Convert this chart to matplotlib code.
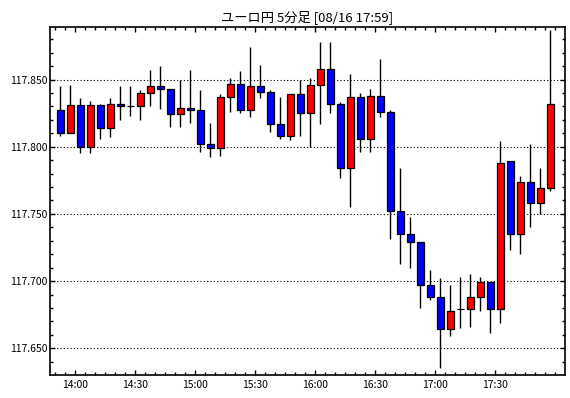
import matplotlib
matplotlib.use("Agg")
import matplotlib.pyplot as plt
from matplotlib.ticker import FixedLocator, MultipleLocator, FormatStrFormatter

plt.rcParams['font.family'] = ['Noto Sans CJK JP', 'DejaVu Sans']

# 5-minute candles, 13:50 - 17:55
times = ["13:50", "13:55", "14:00", "14:05", "14:10", "14:15", "14:20", "14:25", "14:30", "14:35",
         "14:40", "14:45", "14:50", "14:55", "15:00", "15:05", "15:10", "15:15", "15:20", "15:25",
         "15:30", "15:35", "15:40", "15:45", "15:50", "15:55", "16:00", "16:05", "16:10", "16:15",
         "16:20", "16:25", "16:30", "16:35", "16:40", "16:45", "16:50", "16:55", "17:00", "17:05",
         "17:10", "17:15", "17:20", "17:25", "17:30", "17:35", "17:40", "17:45", "17:50", "17:55"]

opens = [117.827, 117.810, 117.831, 117.800, 117.831, 117.814, 117.832, 117.830, 117.830, 117.840,
         117.845, 117.843, 117.824, 117.829, 117.827, 117.802, 117.799, 117.837, 117.847, 117.827,
         117.845, 117.841, 117.817, 117.808, 117.839, 117.825, 117.846, 117.858, 117.832, 117.784,
         117.837, 117.806, 117.838, 117.826, 117.752, 117.735, 117.729, 117.697, 117.688, 117.664,
         117.679, 117.679, 117.688, 117.699, 117.679, 117.789, 117.735, 117.774, 117.758, 117.769]
highs = [117.845, 117.846, 117.836, 117.834, 117.832, 117.836, 117.845, 117.845, 117.842, 117.857,
         117.860, 117.843, 117.850, 117.857, 117.842, 117.818, 117.839, 117.851, 117.856, 117.874,
         117.861, 117.842, 117.837, 117.839, 117.850, 117.851, 117.878, 117.878, 117.833, 117.854,
         117.840, 117.843, 117.865, 117.827, 117.784, 117.748, 117.729, 117.708, 117.702, 117.697,
         117.703, 117.705, 117.703, 117.699, 117.804, 117.789, 117.778, 117.802, 117.784, 117.887]
lows = [117.808, 117.810, 117.795, 117.795, 117.806, 117.807, 117.820, 117.823, 117.820, 117.830,
        117.828, 117.815, 117.815, 117.818, 117.796, 117.792, 117.793, 117.826, 117.825, 117.822,
        117.836, 117.811, 117.806, 117.805, 117.808, 117.800, 117.817, 117.825, 117.777, 117.755,
        117.796, 117.796, 117.822, 117.731, 117.713, 117.710, 117.680, 117.686, 117.635, 117.659,
        117.665, 117.666, 117.678, 117.661, 117.669, 117.723, 117.720, 117.740, 117.750, 117.767]
closes = [117.810, 117.831, 117.800, 117.831, 117.814, 117.832, 117.830, 117.830, 117.840, 117.845,
          117.843, 117.824, 117.829, 117.827, 117.802, 117.799, 117.837, 117.847, 117.827, 117.845,
          117.841, 117.817, 117.808, 117.839, 117.825, 117.846, 117.858, 117.832, 117.784, 117.837,
          117.806, 117.838, 117.826, 117.752, 117.735, 117.729, 117.697, 117.688, 117.664, 117.678,
          117.679, 117.688, 117.699, 117.679, 117.788, 117.735, 117.774, 117.758, 117.769, 117.832]

time_labels = ["14:00", "14:30", "15:00", "15:30", "16:00", "16:30", "17:00", "17:30"]
y_labels = [117.650, 117.700, 117.750, 117.800, 117.850]

fig = plt.figure(figsize=(5.7, 3.98), dpi=100)
ax = fig.add_axes([49.5 / 570, 23 / 398, 515 / 570, 348 / 398])

x = list(range(len(times)))
colors = ["#ff0000" if c >= o else "#0000ff" for o, c in zip(opens, closes)]
bottoms = [min(o, c) for o, c in zip(opens, closes)]
heights = [abs(c - o) for o, c in zip(opens, closes)]

# wicks then bodies
ax.vlines(x, lows, highs, color="black", linewidth=1.0, zorder=2)
ax.bar(x, heights, bottom=bottoms, width=0.65, color=colors,
       edgecolor="black", linewidth=0.9, zorder=3)

ax.set_xlim(-1.1, 50.42)
ax.set_ylim(117.6301, 117.8891)

# ticks: candles are centred in their 5-minute slot
major_x = [times.index(t) - 0.5 for t in time_labels]
minor_x = [i - 0.5 for i in range(len(times) + 1)]
ax.xaxis.set_major_locator(FixedLocator(major_x))
ax.xaxis.set_minor_locator(FixedLocator(minor_x))
ax.set_xticklabels(time_labels)

ax.yaxis.set_major_locator(FixedLocator(y_labels))
ax.yaxis.set_minor_locator(MultipleLocator(0.01))
ax.yaxis.set_major_formatter(FormatStrFormatter("%.3f"))

ax.tick_params(which="both", direction="in", top=True, right=True,
               labelsize=7.5, width=1, colors="black")
ax.tick_params(which="major", length=3.6)
ax.tick_params(which="minor", length=2.2)
ax.tick_params(axis="y", pad=1.2)
ax.tick_params(axis="x", pad=3.5)

ax.grid(axis="y", which="major", color="black", linestyle=(0, (1, 2)), linewidth=0.8)
ax.set_axisbelow(True)

for s in ax.spines.values():
    s.set_linewidth(1.2)

ax.set_title("ユーロ円 5分足 [08/16 17:59]", fontsize=9.5, pad=4)

fig.savefig("out.png", dpi=100)
